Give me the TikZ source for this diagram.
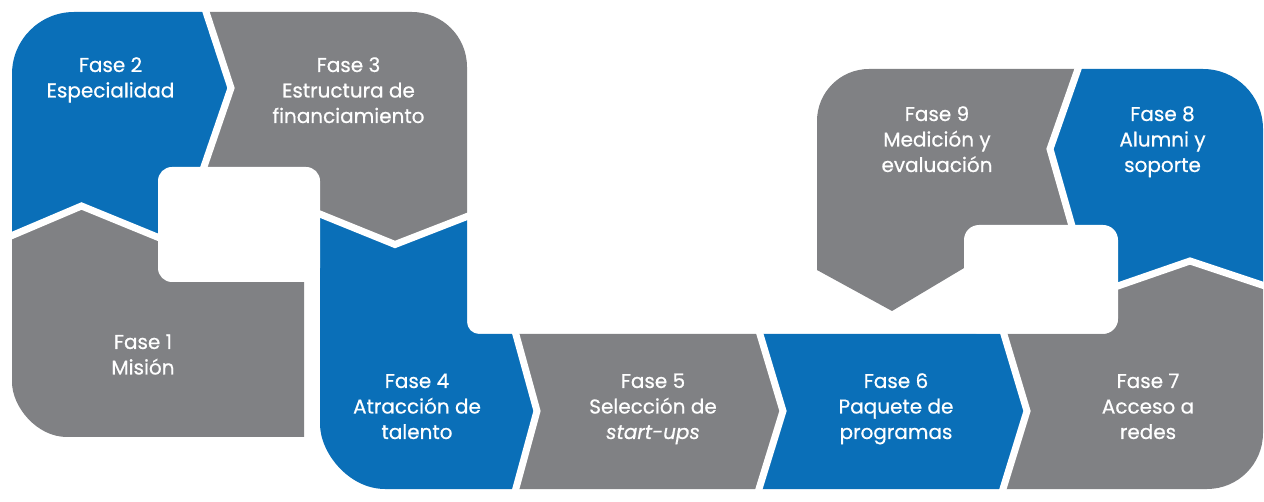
\documentclass[tikz,border=0pt]{standalone}
\usepackage{fontspec}
\setmainfont{Poppins}
\newfontfamily\lblfont{Poppins}[FakeBold=0.6]
\definecolor{phblue}{HTML}{0A6FB8}
\definecolor{phgray}{HTML}{808184}
\begin{document}
\begin{tikzpicture}[x=1pt,y=-1pt,
  sepline/.style={white, line width=7pt, line join=miter},
  lbl/.style={text=white, align=center, inner sep=0pt, font=\lblfont\fontsize{20}{25.5}\selectfont}]
\useasboundingbox (0,0) rectangle (1264,502);
\fill[white] (0,0) rectangle (1264,502);
% Fase 1
\fill[phgray] (12,235.5) -- (81.5,206) -- (200,254.5) -- (304,254.5) -- (304,437) -- (67,437) .. controls (36.6,437) and (12,406.6) .. (12,382) -- cycle;
% Fase 2
\fill[phblue] (12,235.5) -- (12,74) .. controls (12,39.8) and (39.8,12) .. (74,12) -- (206,12) -- (231,88) -- (196,190) -- (200,254.5) -- (81.5,206) -- cycle;
% Fase 3
\fill[phgray] (206,12) -- (412,12) .. controls (442.4,12) and (467,36.6) .. (467,67) -- (467,216.5) -- (395,244.5) -- (320,214) -- (300,206) -- (196,190) -- (231,88) -- cycle;
% Fase 4
\fill[phblue] (320,214) -- (395,244.5) -- (467,216.5) -- (467,322) .. controls (467,328.6) and (472.4,334) .. (479,334) -- (516,334) -- (539,411) -- (516,489) -- (385,489) .. controls (349.1,489) and (320,453.1) .. (320,424) -- cycle;
% Fase 5
\fill[phgray] (516,334) -- (760,334) -- (784,411) -- (759,489) -- (516,489) -- (539,411) -- cycle;
% Fase 6
\fill[phblue] (760,334) -- (1004,334) -- (1028,411) -- (1003,489) -- (759,489) -- (784,411) -- cycle;
% Fase 7
\fill[phgray] (1004,334) -- (1103,334) .. controls (1111.3,334) and (1118,327.3) .. (1118,319) -- (1118,286) -- (1190,261) -- (1263,285) -- (1263,433) .. controls (1263,463.9) and (1238.1,489) .. (1207,489) -- (1003,489) -- (1028,411) -- cycle;
% Fase 8
\fill[phblue] (1078,69) -- (1203,69) .. controls (1236.1,69) and (1263,95.9) .. (1263,129) -- (1263,285) -- (1190,261) -- (1118,286) -- (1100,240) -- (1076,240) -- (1050,149) -- cycle;
% Fase 9
\fill[phgray] (817,121) .. controls (817,92.3) and (840.3,69) .. (869,69) -- (1078,69) -- (1050,149) -- (1076,240) -- (990,240) -- (990,252.5) -- (892,311) -- (817,270) -- cycle;
% holes
\fill[white, rounded corners=14pt] (158,167) rectangle (320,282);
\fill[white, rounded corners=15pt] (964,225) rectangle (1118,333.5);
% separators
\draw[sepline] (203.4,4) -- (231,88) -- (196,190);
\draw[sepline] (4,238.9) -- (81.5,206) -- (200,254.5);
\draw[sepline] (300,206) -- (395,244.5) -- (475,213.4);
\draw[sepline] (513.6,326) -- (537,411) -- (513.6,497);
\draw[sepline] (757.5,326) -- (783,411) -- (756.5,497);
\draw[sepline] (1001.5,326) -- (1027,411) -- (1000.5,497);
\draw[sepline] (1080.8,61) -- (1050,149) -- (1076,240);
\draw[sepline] (1110,288.7) -- (1190,261) -- (1271,288);
% labels
\node[lbl] (f1) at (143,356.6) {\strut Fase 1\strut\\\strut Misión\strut};
\node[lbl] (f2) at (110.5,79.6) {\strut Fase 2\strut\\\strut Especialidad\strut};
\node[lbl] (f3) at (348.5,92.4) {\strut Fase 3\strut\\\strut Estructura de\strut\\\strut financiamiento\strut};
\node[lbl] (f4) at (417,408.4) {\strut Fase 4\strut\\\strut Atracción de\strut\\\strut talento\strut};
\node[lbl] (f5) at (653,408.4) {\strut Fase 5\strut\\\strut Selección de\strut\\\strut \textit{start-ups}\strut};
\node[lbl] (f6) at (896,408.4) {\strut Fase 6\strut\\\strut Paquete de\strut\\\strut programas\strut};
\node[lbl] (f7) at (1148,408.4) {\strut Fase 7\strut\\\strut Acceso a\strut\\\strut redes\strut};
\node[lbl] (f9) at (937,141.4) {\strut Fase 9\strut\\\strut Medición y\strut\\\strut evaluación\strut};
\node[lbl] (f8) at (1162.5,141.4) {\strut Fase 8\strut\\\strut Alumni y\strut\\\strut soporte\strut};
\end{tikzpicture}
\end{document}
